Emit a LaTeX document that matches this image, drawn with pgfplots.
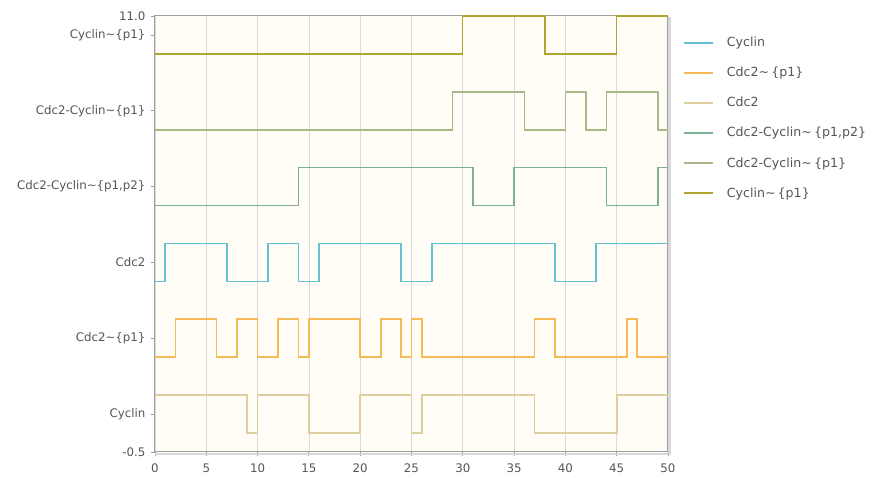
\documentclass[border=0pt]{standalone}
\usepackage{pgfplots}
\pgfplotsset{compat=1.18}
\usepackage{fontspec}
\setmainfont{DejaVu Sans}
\definecolor{cCyan}{RGB}{100,192,212}
\definecolor{cOrange}{RGB}{247,186,88}
\definecolor{cBeige}{RGB}{222,206,160}
\definecolor{cTeal}{RGB}{125,175,148}
\definecolor{cOliveGray}{RGB}{168,184,136}
\definecolor{cOlive}{RGB}{176,164,48}
\definecolor{bgc}{RGB}{255,253,245}
\definecolor{labelgray}{RGB}{85,85,85}
\begin{document}
\begin{tikzpicture}
\useasboundingbox (-155pt,-26pt) rectangle (721pt,452pt);
\begin{axis}[
  at={(0pt,0pt)}, anchor=south west,
  scale only axis, width=513pt, height=436pt,
  xmin=0, xmax=50, ymin=-0.5, ymax=11,
  clip=false,
  axis background/.style={fill=bgc},
  xtick={0,5,...,50},
  xmajorgrids,
  grid style={gray!30, line width=0.7pt},
  ytick={-0.5,0.5,2.5,4.5,6.5,8.5,10.5,11},
  yticklabels={-0.5,Cyclin,Cdc2\textasciitilde\{p1\},Cdc2,{Cdc2-Cyclin\textasciitilde\{p1,p2\}},Cdc2-Cyclin\textasciitilde\{p1\},Cyclin\textasciitilde\{p1\},11.0},
  xtick pos=bottom, ytick pos=left,
  tick align=outside,
  major tick length=4pt,
  tick style={gray!80, line width=0.8pt},
  axis line style={draw=gray!75, line width=1pt},
  /pgf/number format/assume math mode=true,
  ticklabel style={font=\fontsize{11.8}{14}\selectfont, text=labelgray},
  xticklabel style={yshift=-4pt},
  yticklabel style={xshift=-2pt},
  legend cell align=left,
  legend style={draw=none, fill=none, at={(1,1)}, anchor=north west,
    xshift=15pt, yshift=-19pt, font=\fontsize{12.6}{15}\selectfont,
    text=labelgray, row sep=15pt, inner sep=0pt},
  legend image code/.code={\draw[#1] (0pt,0pt) -- (29pt,0pt); \path (40pt,0pt);},
]
\addplot[cCyan, line width=1.7pt, const plot] coordinates {(0,4)(1,5)(7,4)(11,5)(14,4)(16,5)(24,4)(27,5)(39,4)(43,5)(50,5)};
\addlegendentry{Cyclin}
\addplot[cOrange, line width=1.7pt, const plot] coordinates {(0,2)(2,3)(6,2)(8,3)(10,2)(12,3)(14,2)(15,3)(20,2)(22,3)(24,2)(25,3)(26,2)(37,3)(39,2)(46,3)(47,2)(50,2)};
\addlegendentry{Cdc2\textasciitilde\,\{p1\}}
\addplot[cBeige, line width=1.7pt, const plot] coordinates {(0,1)(9,0)(10,1)(15,0)(20,1)(25,0)(26,1)(37,0)(45,1)(50,1)};
\addlegendentry{Cdc2}
\addplot[cTeal, line width=1.7pt, const plot] coordinates {(0,6)(14,7)(31,6)(35,7)(44,6)(49,7)(50,7)};
\addlegendentry{Cdc2-Cyclin\textasciitilde\,\{p1,p2\}}
\addplot[cOliveGray, line width=1.7pt, const plot] coordinates {(0,8)(29,9)(36,8)(40,9)(42,8)(44,9)(49,8)(50,8)};
\addlegendentry{Cdc2-Cyclin\textasciitilde\,\{p1\}}
\addplot[cOlive, line width=1.4pt, const plot] coordinates {(0,10)(30,11)(38,10)(45,11)(50,11)};
\addlegendentry{Cyclin\textasciitilde\,\{p1\}}
\end{axis}
\draw[gray!30, line width=2pt] ([xshift=2pt,yshift=-1pt]current axis.north east) -- ([xshift=2pt,yshift=-2pt]current axis.south east) -- ([yshift=-2pt]current axis.south west);
\end{tikzpicture}
\end{document}
